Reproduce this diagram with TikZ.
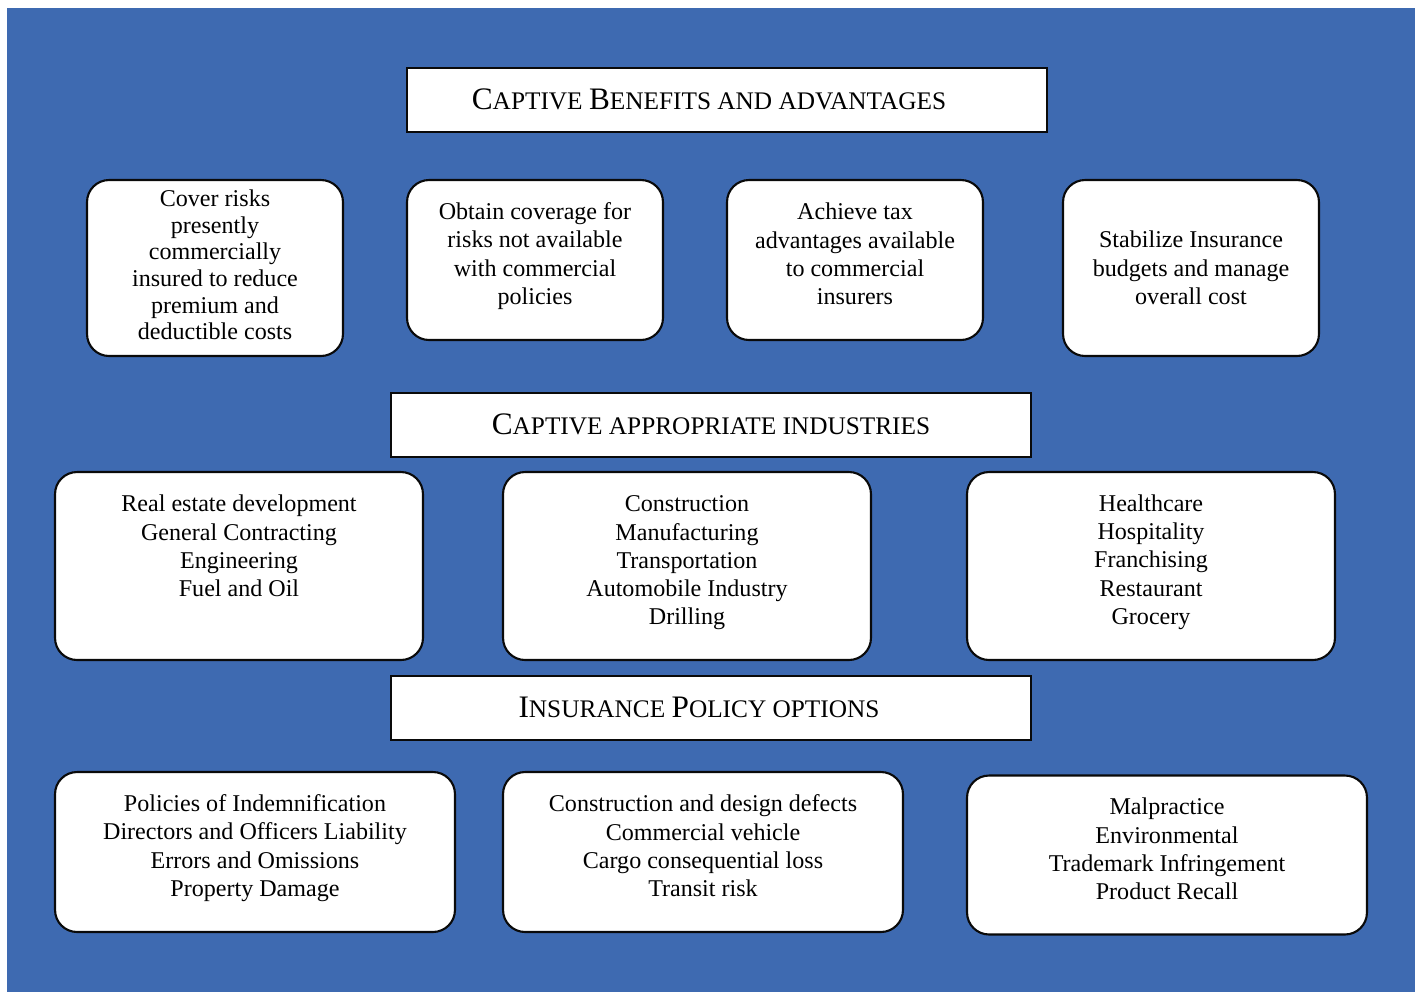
\documentclass[tikz,border=0pt]{standalone}
\usepackage{fontspec}
\setmainfont{Liberation Serif}
\definecolor{panel-blue}{RGB}{62,106,177}
\definecolor{edge-black}{RGB}{10,10,10}
\usetikzlibrary{positioning}
\newcommand{\hdbig}{\fontsize{17.8}{20}\selectfont}
\newcommand{\hdsmall}{\fontsize{14.4}{20}\selectfont}
\tikzset{
    header/.style={draw=edge-black,line width=1pt,fill=white,minimum width=12.8cm,minimum height=1.28cm,inner sep=0pt},
    headtext/.style={font=\hdsmall,inner sep=0pt},
    card/.style={draw=edge-black,line width=1.2pt,fill=white,rounded corners=0.44cm,inner sep=0pt},
    cardtext/.style={align=center,inner sep=0pt,font=\fontsize{13.7}{16.1}\selectfont}
}
\begin{document}
\begin{tikzpicture}[x=0.02cm,y=-0.02cm]
    \fill[white] (0,0) rectangle (1420,992);
    \fill[panel-blue] (7,8) rectangle (1415,992);
    %
    \node[header] (hd-benefits) at (727,100) {};
    \node[headtext] (hd-benefits-text) at (709,99) {{\hdbig C}APTIVE {\hdbig B}ENEFITS AND ADVANTAGES};
    %
    \node[card,minimum width=5.12cm,minimum height=3.52cm] (benefit-cover) at (215,268) {};
    \node[cardtext,font=\fontsize{13.7}{15.1}\selectfont] (benefit-cover-text) at (215,265) {Cover risks\\presently\\commercially\\insured to reduce\\premium and\\deductible costs};
    \node[card,minimum width=5.12cm,minimum height=3.2cm] (benefit-obtain) at (535,260) {};
    \node[cardtext] (benefit-obtain-text) at (535,256) {Obtain coverage for\\risks not available\\with commercial\\policies};
    \node[card,minimum width=5.12cm,minimum height=3.2cm] (benefit-tax) at (855,260) {};
    \node[cardtext] (benefit-tax-text) at (855,254) {Achieve tax\\advantages available\\to commercial\\insurers};
    \node[card,minimum width=5.12cm,minimum height=3.52cm] (benefit-budget) at (1191,268) {};
    \node[cardtext] (benefit-budget-text) at (1191,268) {Stabilize Insurance\\budgets and manage\\overall cost};
    %
    \node[header] (hd-industries) at (711,425) {};
    \node[headtext] (hd-industries-text) at (711,424) {{\hdbig C}APTIVE APPROPRIATE INDUSTRIES};
    %
    \node[card,minimum width=7.36cm,minimum height=3.76cm] (industry-real) at (239,566) {};
    \node[cardtext] (industry-real-text) at (239,546) {Real estate development\\General Contracting\\Engineering\\Fuel and Oil};
    \node[card,minimum width=7.36cm,minimum height=3.76cm] (industry-constr) at (687,566) {};
    \node[cardtext] (industry-constr-text) at (687,563) {Construction\\Manufacturing\\Transportation\\Automobile Industry\\Drilling};
    \node[card,minimum width=7.36cm,minimum height=3.76cm] (industry-health) at (1151,566) {};
    \node[cardtext] (industry-health-text) at (1151,562) {Healthcare\\Hospitality\\Franchising\\Restaurant\\Grocery};
    %
    \node[header] (hd-policies) at (711,708) {};
    \node[headtext] (hd-policies-text) at (699,707) {{\hdbig I}NSURANCE {\hdbig P}OLICY OPTIONS};
    %
    \node[card,minimum width=8cm,minimum height=3.2cm] (policy-indem) at (255,852) {};
    \node[cardtext] (policy-indem-text) at (255,848) {Policies of Indemnification\\Directors and Officers Liability\\Errors and Omissions\\Property Damage};
    \node[card,minimum width=8cm,minimum height=3.2cm] (policy-defect) at (703,852) {};
    \node[cardtext] (policy-defect-text) at (703,846) {Construction and design defects\\Commercial vehicle\\Cargo consequential loss\\Transit risk};
    \node[card,minimum width=8cm,minimum height=3.18cm] (policy-malpr) at (1167,855) {};
    \node[cardtext] (policy-malpr-text) at (1167,849) {Malpractice\\Environmental\\Trademark Infringement\\Product Recall};
\end{tikzpicture}
\end{document}
